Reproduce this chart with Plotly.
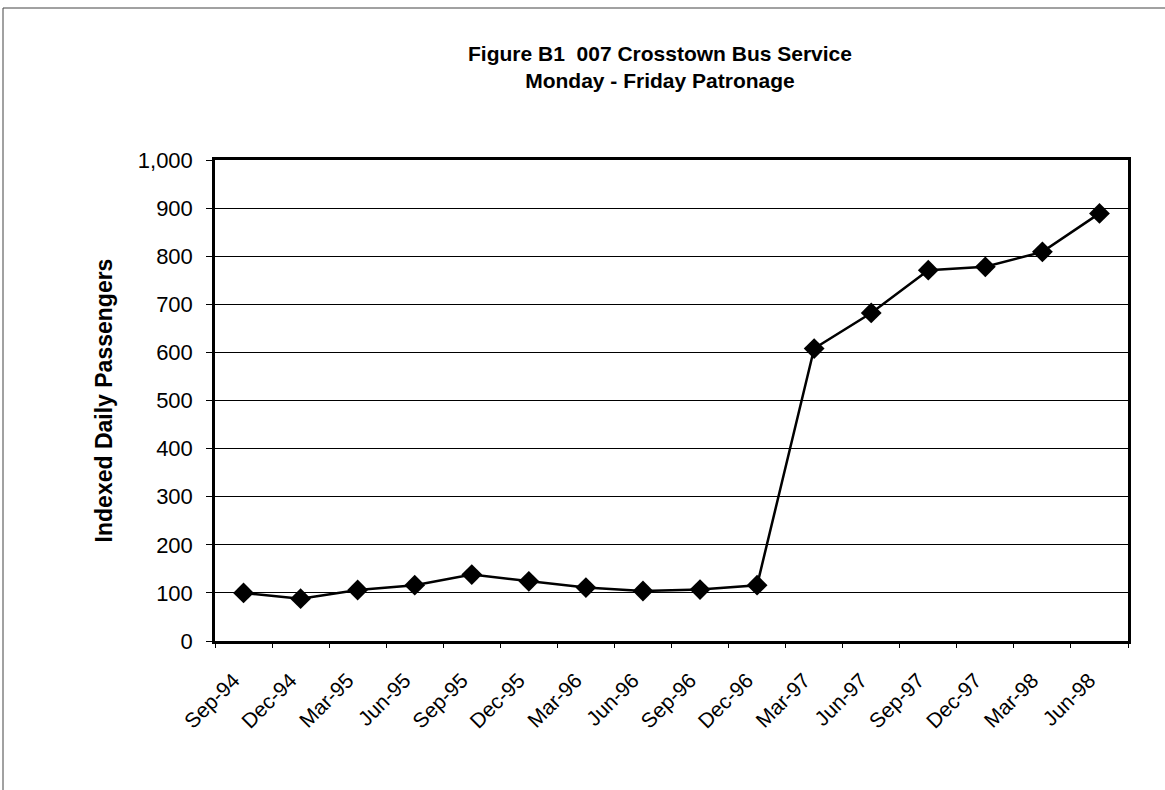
import plotly.graph_objects as go

# Quarterly survey periods and indexed weekday patronage
quarters = ["Sep-94", "Dec-94", "Mar-95", "Jun-95", "Sep-95", "Dec-95", "Mar-96", "Jun-96",
            "Sep-96", "Dec-96", "Mar-97", "Jun-97", "Sep-97", "Dec-97", "Mar-98", "Jun-98"]
passengers = [100, 88, 106, 116, 138, 124, 111, 104, 107, 116, 608, 682, 771, 778, 809, 889]
y_ticks = [0, 100, 200, 300, 400, 500, 600, 700, 800, 900, 1000]

W, H = 1165, 790
L, R, T, B = 215, 1128, 160, 641  # plot area edges in pixels

fig = go.Figure()
fig.add_trace(go.Scatter(
    x=quarters, y=passengers, mode="lines+markers",
    line=dict(color="black", width=2.5),
    marker=dict(symbol="diamond", size=16, color="black"),
    showlegend=False, hoverinfo="x+y",
))

font_family = "Liberation Sans, Arial, sans-serif"

fig.update_layout(
    width=W, height=H,
    margin=dict(l=L, r=W - R, t=T, b=H - B),
    paper_bgcolor="white", plot_bgcolor="white",
    font=dict(family=font_family, color="black", size=21),
    xaxis=dict(
        type="category", range=[-0.5, len(quarters) - 0.5],
        tickson="boundaries", ticks="outside", ticklen=4, tickcolor="black",
        tickangle=-45, showgrid=False, zeroline=False,
        showline=True, linecolor="black", linewidth=2.5, mirror=True,
        tickfont=dict(size=21), ticklabelshift=-10, ticklabelstandoff=16,
    ),
    yaxis=dict(
        range=[0, 1000], tickvals=y_ticks, tickformat=",d",
        ticks="outside", ticklen=6, tickcolor="black",
        showgrid=True, gridcolor="black", gridwidth=1.3, zeroline=False,
        showline=True, linecolor="black", linewidth=2.5, mirror=True,
        tickfont=dict(size=22), ticklabelstandoff=9,
        title=dict(text="<b>Indexed Daily Passengers</b>", font=dict(size=23), standoff=19),
    ),
)

# Two-line chart title
fig.add_annotation(
    text="<b>Figure B1  007 Crosstown Bus Service</b><br><b>Monday - Friday Patronage</b>",
    xref="paper", yref="paper",
    x=(660 - L) / (R - L), y=(B - 67) / (B - T),
    xanchor="center", yanchor="middle", showarrow=False,
    font=dict(size=21, family=font_family), align="center",
)

# Thin outer frame around the whole chart
fig.add_shape(
    type="rect", xref="paper", yref="paper",
    x0=(3 - L) / (R - L), x1=(1200 - L) / (R - L),
    y0=(B - 830) / (B - T), y1=(B - 8) / (B - T),
    line=dict(color="#444", width=1), fillcolor="rgba(0,0,0,0)", layer="below",
)

fig.write_html("out.html")
